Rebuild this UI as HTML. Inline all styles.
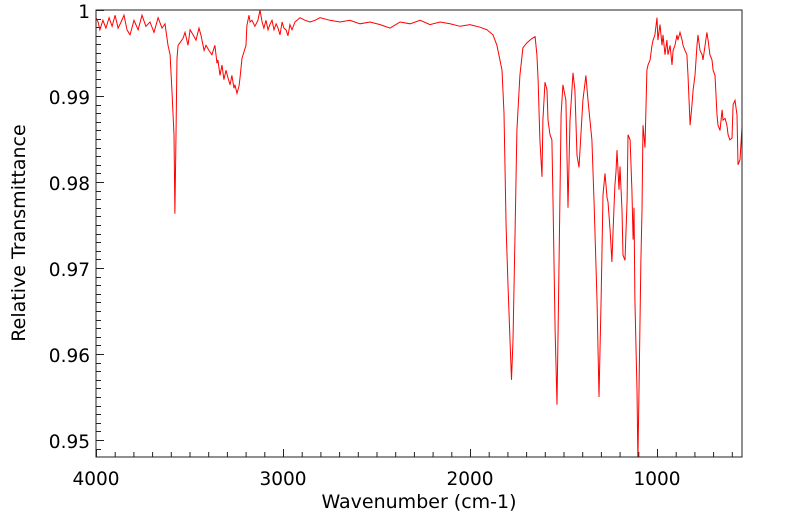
<!DOCTYPE html>
<html><head><meta charset="utf-8"><style>
html,body{margin:0;padding:0;background:#fff;width:799px;height:516px;overflow:hidden}
svg{display:block;font-family:"DejaVu Sans","Liberation Sans",sans-serif}
</style></head><body>
<svg id="chart" width="799" height="516" viewBox="0 0 799 516">
<defs><clipPath id="clip"><rect x="96" y="10" width="646" height="447"/></clipPath></defs>
<g id="ticks"></g>
<g id="labels" font-size="18.5" fill="#000"></g>
<g clip-path="url(#clip)"><polyline id="line" fill="none" stroke="#ff0000" stroke-width="1"/></g>
<rect x="96" y="10" width="646" height="447" fill="none" stroke="#222" stroke-width="1"/>
<text x="419" y="508" font-size="19" text-anchor="middle">Wavenumber (cm-1)</text>
<text transform="translate(25,233) rotate(-90)" font-size="19" text-anchor="middle">Relative Transmittance</text>
</svg>
<script>
const wn=[4000,3989,3979,3963,3947,3930,3914,3898,3882,3866,3850,3834,3818,3797,3775,3754,3733,3711,3690,3668,3647,3631,3615,3604,3594,3583,3578,3572,3567,3561,3551,3535,3524,3508,3497,3481,3465,3449,3439,3422,3412,3396,3380,3364,3353,3348,3337,3326,3316,3305,3294,3283,3273,3262,3257,3246,3235,3230,3219,3209,3198,3193,3182,3176,3166,3150,3134,3123,3112,3102,3091,3080,3070,3059,3048,3037,3027,3016,3005,2995,2984,2973,2963,2952,2936,2909,2882,2856,2829,2802,2749,2695,2642,2588,2535,2481,2428,2374,2321,2267,2214,2160,2107,2053,2000,1947,1909,1877,1856,1840,1829,1818,1807,1797,1786,1778,1770,1759,1749,1733,1717,1695,1679,1668,1652,1642,1636,1626,1615,1610,1599,1588,1583,1572,1562,1556,1545,1535,1529,1513,1503,1487,1476,1465,1449,1439,1428,1417,1396,1380,1369,1348,1337,1321,1310,1299,1289,1278,1267,1262,1251,1241,1235,1225,1219,1214,1203,1198,1187,1182,1171,1160,1155,1144,1134,1128,1123,1118,1107,1102,1096,1086,1080,1075,1064,1054,1048,1037,1027,1021,1011,1000,995,984,973,968,957,947,941,930,920,914,904,893,888,877,866,861,850,840,834,823,813,807,797,786,781,770,759,754,743,733,727,717,706,700,690,679,674,663,652,647,636,626,620,610,599,593,583,572,567,556,545];
const tr=[.9991,.9986,.9977,.9988,.9979,.9991,.9981,.9994,.9979,.9986,.9994,.9977,.9971,.9988,.9977,.9994,.9981,.9986,.9974,.9991,.9979,.9984,.9959,.9948,.9907,.9855,.9763,.9855,.9944,.9959,.9962,.9967,.9974,.9959,.9977,.9971,.9965,.9979,.9971,.9953,.9959,.9953,.9948,.9959,.9938,.9942,.9924,.9936,.9919,.9930,.9921,.9913,.9924,.9909,.9913,.9903,.9912,.9921,.9944,.9951,.9959,.9982,.9994,.9986,.9988,.9981,.9988,1.0,.9986,.9979,.9988,.9977,.9983,.9988,.9977,.9984,.9979,.9971,.9986,.9979,.9977,.9970,.9983,.9977,.9986,.9991,.9988,.9986,.9988,.9991,.9988,.9986,.9988,.9984,.9986,.9983,.9979,.9986,.9984,.9988,.9983,.9986,.9984,.9981,.9983,.9980,.9977,.9971,.9959,.9942,.9930,.9880,.9748,.9680,.9616,.9570,.9616,.9744,.9860,.9924,.9956,.9962,.9965,.9967,.9969,.9948,.9919,.9849,.9806,.9872,.9916,.9907,.9872,.9855,.9849,.9779,.9628,.9541,.9628,.9878,.9913,.9895,.9770,.9872,.9927,.9907,.9831,.9817,.9895,.9924,.9895,.9849,.9779,.9663,.9550,.9663,.9785,.9810,.9781,.9777,.9744,.9707,.9744,.9796,.9812,.9837,.9791,.9818,.9767,.9715,.9709,.9779,.9855,.9849,.9791,.9733,.9770,.9663,.9558,.9475,.9558,.9709,.9767,.9866,.9840,.9930,.9936,.9942,.9959,.9965,.9971,.9991,.9965,.9983,.9959,.9971,.9948,.9965,.9948,.9959,.9936,.9953,.9959,.9971,.9965,.9974,.9965,.9959,.9953,.9948,.9924,.9866,.9890,.9907,.9924,.9959,.9971,.9953,.9948,.9942,.9959,.9974,.9965,.9948,.9942,.9930,.9924,.9878,.9866,.9860,.9884,.9872,.9874,.9866,.9855,.9849,.9851,.9890,.9895,.9878,.9820,.9826,.9866,.9860];
const xTicks=[4000,3000,2000,1000];
const yTicks=[1,0.99,0.98,0.97,0.96,0.95];
const yTickLabels=["1","0.99","0.98","0.97","0.96","0.95"];
const X0=96,X1=742,Y0=10,Y1=457;
function xs(w){return X0+(4000-w)*0.187;}
function ys(v){return Y0+(1-v)*8600;}
const NS='http://www.w3.org/2000/svg';
const line=document.getElementById('line');
line.setAttribute('points',wn.map((w,i)=>xs(w).toFixed(1)+','+ys(tr[i]).toFixed(1)).join(' '));
const tg=document.getElementById('ticks'),lg=document.getElementById('labels');
function mk(tag,g){const e=document.createElementNS(NS,tag);g.appendChild(e);return e;}
for(let w=4000;w>=550;w-=100){
  const x=xs(w)+0.5,maj=(w%1000===0);
  const t=mk('line',tg);
  
  
  t.setAttribute('x1',x);t.setAttribute('x2',x);t.setAttribute('y1',Y1);t.setAttribute('y2',Y1-(maj?8:5));t.setAttribute('stroke','#222');
}
for(let k=0;k<=52;k++){
  const v=1-k*0.001;
  const y=Math.round(ys(v))+0.5,maj=(k%10===0);
  if(y>Y1) break;
  const t=mk('line',tg);
  
  
  t.setAttribute('x1',X0);t.setAttribute('x2',X0+(maj?8:5));t.setAttribute('y1',y);t.setAttribute('y2',y);t.setAttribute('stroke','#222');
}
xTicks.forEach(w=>{
  const t=mk('text',lg);
  
  
  t.setAttribute('x',xs(w));t.setAttribute('y',485);t.setAttribute('text-anchor','middle');t.textContent=w;
});
yTicks.forEach((v,i)=>{
  const t=mk('text',lg);
  
  
  t.setAttribute('x',90);t.setAttribute('y',ys(v)+8);t.setAttribute('text-anchor','end');t.textContent=yTickLabels[i];
});
</script>
</body></html>
